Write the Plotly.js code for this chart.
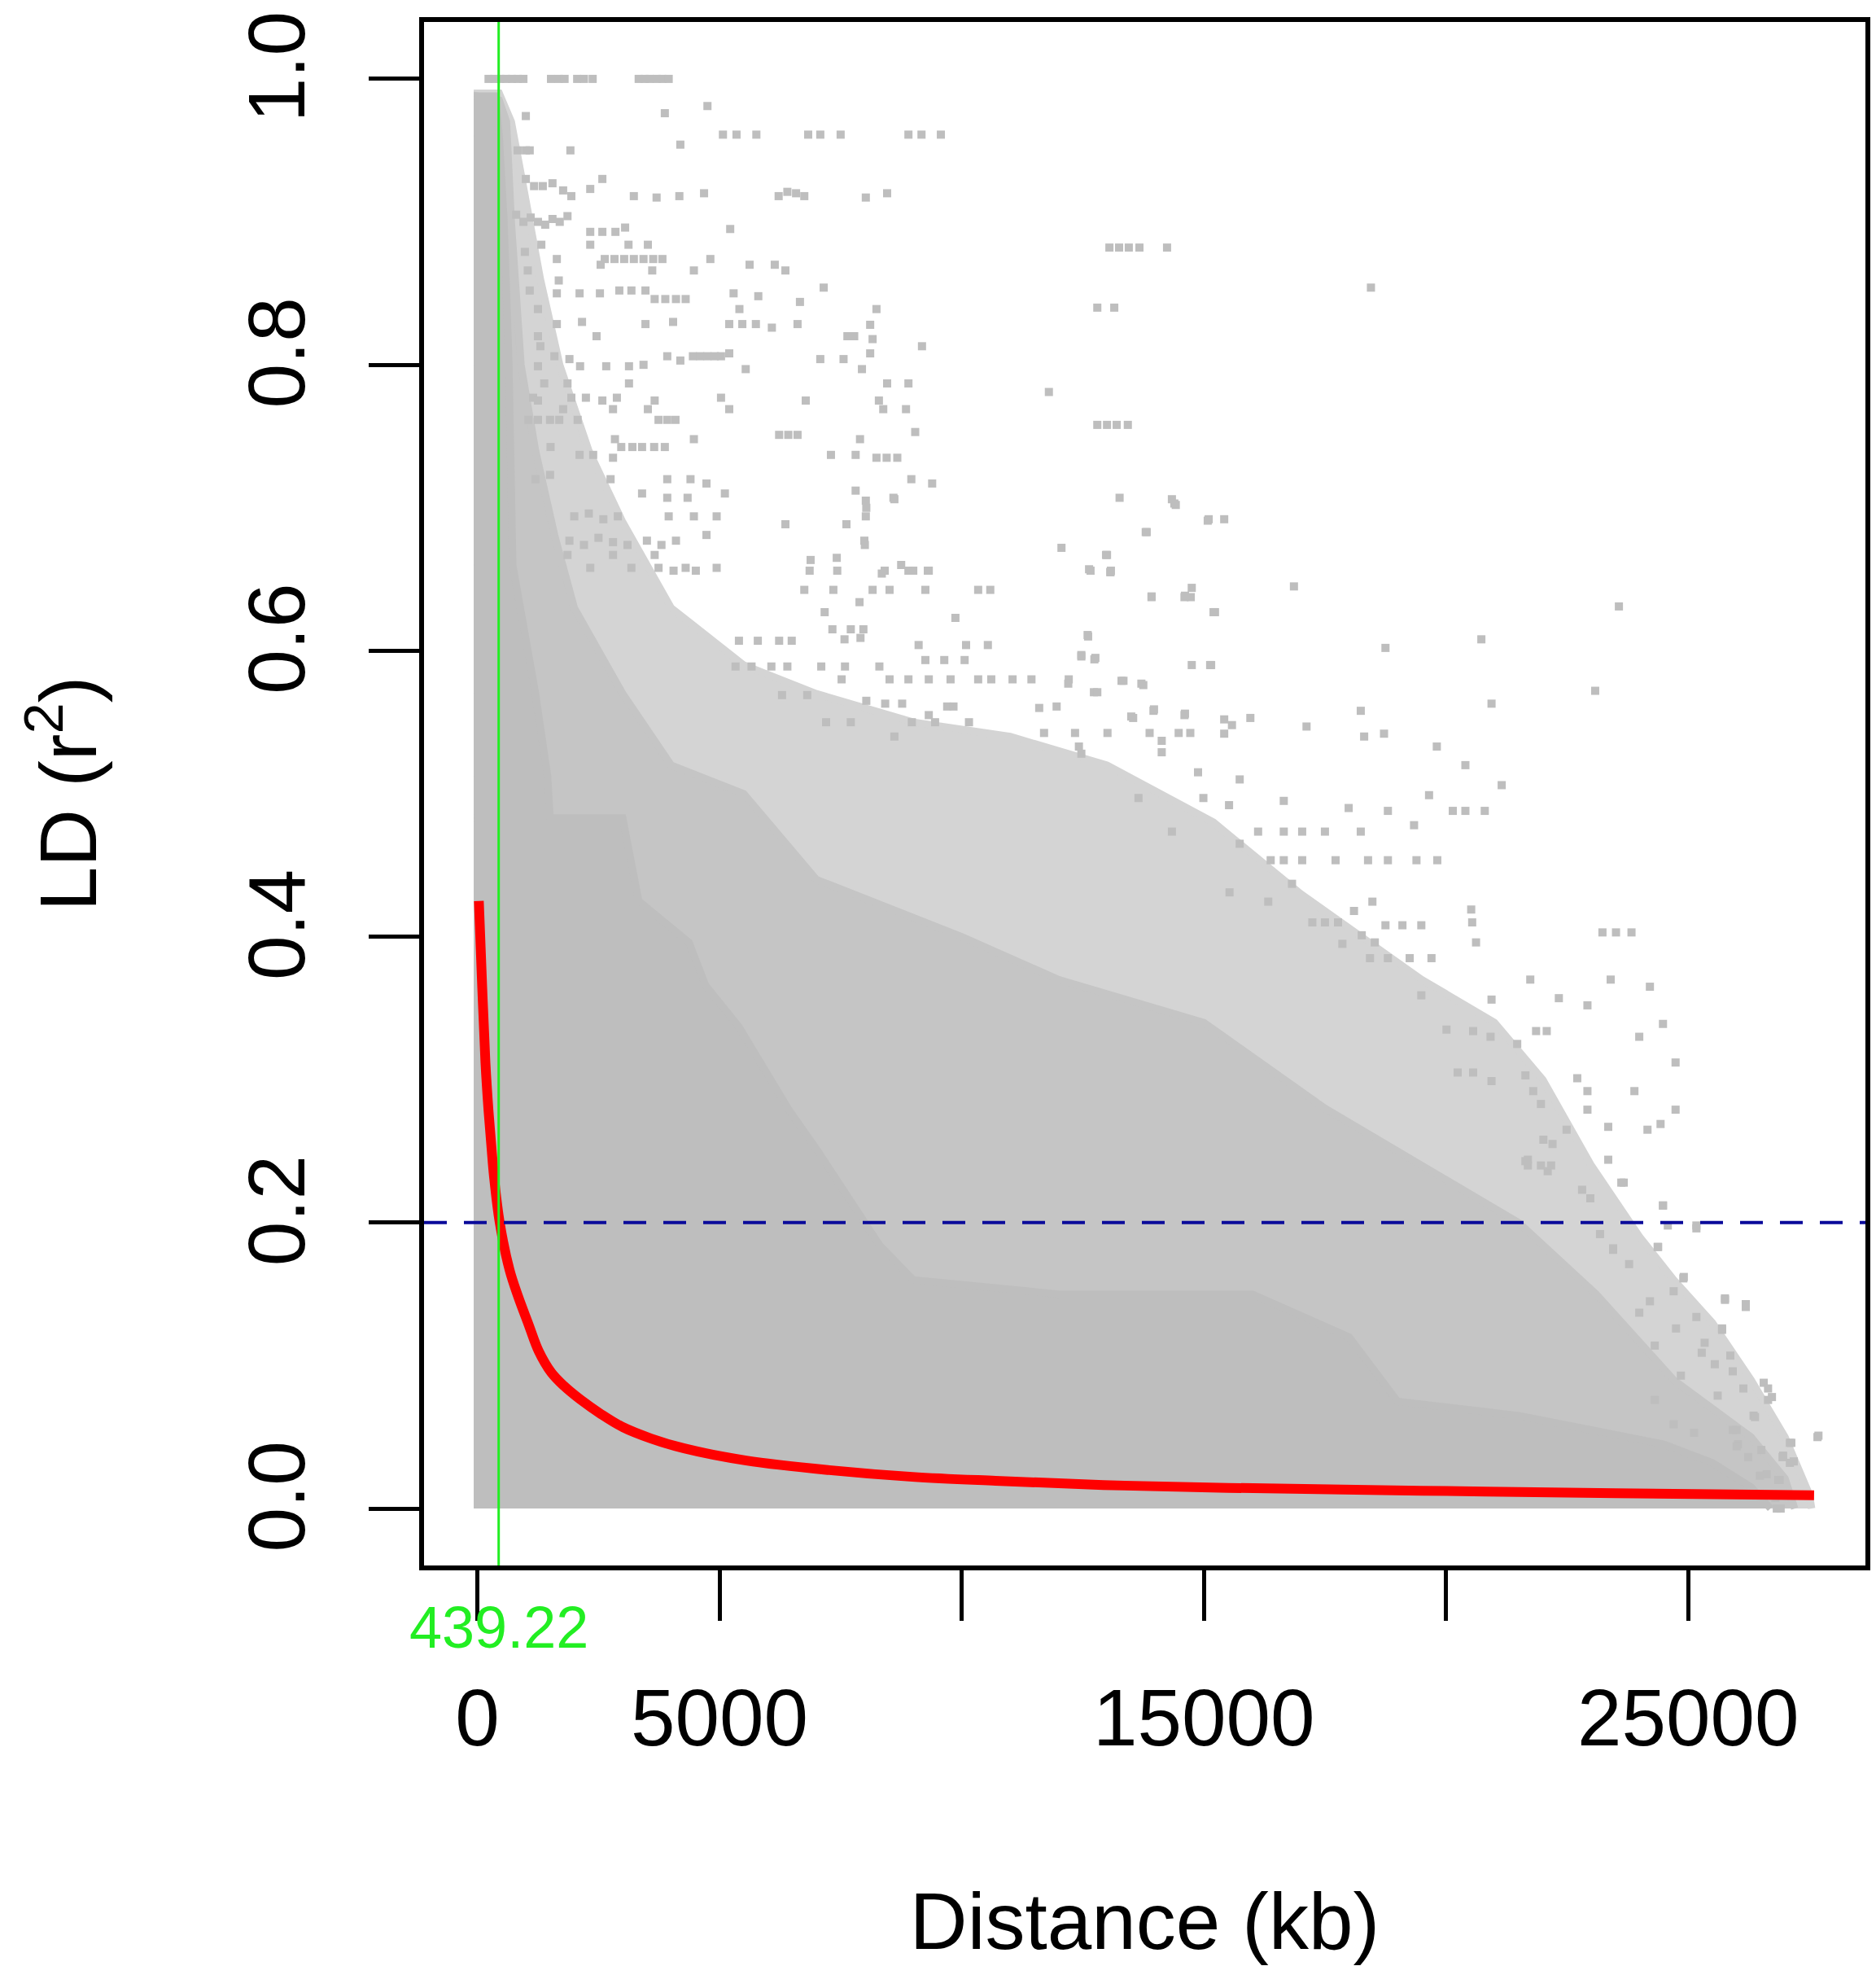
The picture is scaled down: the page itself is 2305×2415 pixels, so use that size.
<!DOCTYPE html>
<html>
<head>
<meta charset="utf-8">
<script src="https://cdn.plot.ly/plotly-3.0.1.min.js"></script>
<style>
html,body{margin:0;padding:0;background:#fff;}
#chart{width:2305px;height:2415px;}
</style>
</head>
<body>
<div id="chart"></div>
<script>
// ---- Data ----
// Fitted LD decay curve (distance kb, r^2)
const fitX = [30, 100, 166, 230, 292, 343, 461, 663, 839, 1054, 1267, 1524, 1783, 2124, 2555, 2982, 3587, 4270, 5553, 7267, 8980, 10700, 12930, 15500, 19500, 23500, 27600];
const fitY = [0.425, 0.364, 0.312, 0.278, 0.252, 0.232, 0.200, 0.167, 0.1485, 0.129, 0.110, 0.0952, 0.0859, 0.0763, 0.066, 0.0573, 0.049, 0.0421, 0.0336, 0.0269, 0.0222, 0.0194, 0.0165, 0.0145, 0.0125, 0.0108, 0.0093];

// Envelope of the fully saturated part of the point cloud
const solidX = [0, 370, 450, 550, 650, 730, 1200, 1450, 1500, 3000, 3330, 4370, 4710, 5400, 6430, 7030, 8310, 9000, 12000, 16000, 18000, 19000, 21500, 23000, 24500, 25500, 26300, 26700];
const solidY = [0.988, 0.988, 0.96, 0.90, 0.80, 0.66, 0.57, 0.512, 0.483, 0.483, 0.425, 0.396, 0.366, 0.337, 0.279, 0.25, 0.184, 0.16, 0.15, 0.15, 0.12, 0.075, 0.065, 0.055, 0.045, 0.032, 0.015, 0.0];

// Envelope of the densely speckled part of the cloud
const denseX = [0, 450, 600, 700, 900, 1200, 1600, 2000, 3000, 4000, 5500, 7000, 10000, 12000, 15000, 17500, 19500, 21500, 23100, 24700, 26300, 27000, 27200];
const denseY = [0.988, 0.985, 0.97, 0.90, 0.80, 0.74, 0.68, 0.63, 0.57, 0.52, 0.50, 0.44, 0.40, 0.37, 0.34, 0.28, 0.24, 0.20, 0.15, 0.09, 0.05, 0.021, 0.0];

// Envelope of the moderately speckled part of the cloud
const modX = [0, 450, 700, 920, 1300, 1700, 2300, 3000, 4000, 5500, 7000, 9000, 11000, 13000, 15200, 17000, 19500, 21000, 22000, 23000, 24000, 24700, 25500, 26300, 27000, 27500, 27550];
const modY = [0.99, 0.99, 0.97, 0.93, 0.86, 0.80, 0.74, 0.69, 0.63, 0.59, 0.57, 0.55, 0.54, 0.52, 0.48, 0.43, 0.37, 0.34, 0.30, 0.24, 0.19, 0.16, 0.13, 0.09, 0.05, 0.01, 0.0];

// Individually visible points (distance kb, r^2)
const ldX = [
230,350,470,590,710,830,950,1520,1680,1800,2060,2200,2380,3330,3450,3560,3700,3820,3950,
4750,3870,1000,5070,5350,5760,6830,7080,7500,8900,9170,9570,4190,830,1000,1080,1920,
1000,1170,1350,1550,1770,1940,2330,2580,3230,3700,4170,4680,6220,6400,6580,6750,8020,8460,
800,950,1100,1250,1400,1550,1700,1860,2330,2580,2850,3050,5220,
1320,2330,3120,3520,980,13050,13250,13450,13670,14240,
1640,2630,2830,3030,3230,3430,3630,3820,4810,2545,5620,6140,6360,1040,3610,4470,1680,
1080,1640,2110,2530,2930,3180,3470,3660,3880,4100,4300,5290,5800,7150,6660,18450,
1250,5410,8240,12800,13150,1640,2160,3470,4040,5200,5470,5750,6080,6610,8110,
1250,2460,7640,7780,8160,1300,9180,
1590,1900,3920,4190,4450,4600,4750,4900,5030,5200,7080,7560,8110,
1250,2120,2660,3130,3430,5540,7940,1380,1860,3130,8460,8900,11800,
1150,1250,1940,2240,2580,2880,3660,5030,6780,8290,1770,2800,3520,5200,8380,8850,
1050,1250,1500,1690,2070,3740,3920,4090,12800,13000,13200,13430,9040,6230,6420,6610,
2840,4470,7900,1510,2970,3200,3400,3650,3870,2110,2390,2800,7300,7810,8240,8450,8670,
1200,1500,2750,3920,4400,4730,8960,9390,3400,3920,4340,5110,7810,8020,8590,13260,14340,14420,
2000,2300,2600,2900,3950,4470,4940,8020,15100,15420,6360,7620,4730,13800,
1900,2200,2500,2800,3100,3500,3800,4100,7990,12060,1860,2800,3660,13000,
2330,3180,3740,4050,4300,4510,4940,6860,7430,8410,8750,9000,9320,12660,13070,
8030,8610,14390,15080,13820,8000,6880,7420,12980,13080,8350,8900,9300,
6750,7350,7890,8160,8510,9250,10340,10590,13920,14600,14730,7170,9870,15230,
7330,7710,7970,5400,5790,6230,6490,7580,7910,9110,10090,10540,12600,12470,12760,
9250,9640,10060,14750,15130,5330,5660,6070,6400,7100,7590,8300,
7520,8510,8900,9320,9770,10340,10610,11050,11440,12210,12730,13300,13750,
6290,6810,8030,8420,8770,11600,11960,9320,9700,9830,13500,13960,14600,
7200,7710,8610,8970,9450,10150,11700,12340,12470,13010,13880,14480,14720,
23570,20730,23080,20940,18750,16860,21150,19810,20400,23230,23510,23830,24210,24480,23990,24740,24740,24430,
23400,22920,21740,22330,23890,23350,23670,24480,25170,24370,24900,26190,25760,25700,25280,25920,23450,
22920,22490,22010,21640,21960,22710,
12630,13070,13920,14610,14750,15200,12610,12470,12740,15150,12200,12800,13340,13710,13540,13970,14610,
15420,15580,15960,15420,17120,18240,18310,18720,14130,12420,14130,14880,15740,13650,14990,15520,
16650,17990,18800,19650,20140,20400,20800,19340,16120,16650,17030,17500,18240,14340,15740,
16380,16650,17030,17720,18390,18800,19390,19820,16820,15530,16330,20520,20540,20620,17240,17500,17770,
18100,18480,18750,19100,19490,17860,18260,18530,18430,18800,19250,19700,19490,20940,20010,20560,20920,
21470,21860,22080,20240,20560,20940,21640,21800,22920,22200,21690,22100,24160,
23350,23620,24480,25170,24380,23450,24910,25760,26190,25170,25700,25340,25870,25550,26560,26730,26350,
27690,27100,26510,26950,27100,26620,26890,26830,25920,26030,26240,26140,25610,24700,25120,24310,24850,
24310,24750,23990,24700,24210,23780,23180,24580,22810,22980,22170,21690,21960,
27670,27130,27180,26960,26380,26650,26650,26000,26000,26860,26910,26480,26800
];
const ldY = [
1.0,1.0,1.0,1.0,1.0,1.0,1.0,1.0,1.0,1.0,1.0,1.0,1.0,1.0,1.0,1.0,1.0,1.0,1.0,
0.981,0.976,0.974,0.961,0.961,0.961,0.961,0.961,0.961,0.961,0.961,0.961,0.954,0.95,0.95,0.95,0.95,
0.93,0.925,0.925,0.927,0.922,0.918,0.923,0.93,0.918,0.917,0.918,0.92,0.918,0.921,0.92,0.918,0.917,0.92,
0.905,0.9,0.903,0.9,0.898,0.902,0.9,0.904,0.893,0.893,0.893,0.896,0.895,
0.884,0.884,0.884,0.884,0.879,0.882,0.882,0.882,0.882,0.882,
0.874,0.874,0.874,0.874,0.874,0.874,0.874,0.874,0.874,0.87,0.87,0.87,0.866,0.866,0.866,0.866,0.859,
0.852,0.85,0.85,0.85,0.852,0.852,0.852,0.846,0.846,0.846,0.846,0.85,0.848,0.854,0.844,0.854,
0.839,0.839,0.839,0.84,0.84,0.8285,0.83,0.8285,0.83,0.8285,0.8285,0.8285,0.826,0.8285,0.828,
0.82,0.82,0.82,0.82,0.818,0.813,0.813,
0.806,0.804,0.806,0.803,0.806,0.806,0.806,0.806,0.806,0.808,0.804,0.804,0.808,
0.799,0.799,0.799,0.799,0.8,0.797,0.797,0.787,0.787,0.787,0.787,0.787,0.781,
0.777,0.775,0.777,0.777,0.775,0.777,0.775,0.777,0.775,0.775,0.769,0.769,0.769,0.769,0.769,0.769,
0.7615,0.7615,0.7615,0.7615,0.7615,0.7615,0.7615,0.7615,0.758,0.758,0.758,0.758,0.753,0.751,0.751,0.751,
0.748,0.748,0.748,0.7425,0.7425,0.7425,0.7425,0.7425,0.7425,0.737,0.737,0.735,0.737,0.737,0.735,0.735,0.735,
0.72,0.723,0.72,0.72,0.72,0.717,0.72,0.717,0.71,0.707,0.707,0.71,0.712,0.705,0.707,0.707,0.706,0.702,
0.694,0.696,0.692,0.694,0.694,0.694,0.694,0.694,0.692,0.692,0.6885,0.6885,0.681,0.683,
0.677,0.674,0.679,0.676,0.674,0.677,0.674,0.677,0.677,0.672,0.667,0.667,0.667,0.667,
0.658,0.658,0.658,0.656,0.658,0.656,0.658,0.656,0.656,0.656,0.66,0.656,0.656,0.656,0.655,
0.70,0.706,0.703,0.691,0.683,0.674,0.6635,0.665,0.667,0.656,0.654,0.656,0.656,
0.6426,0.6426,0.634,0.6426,0.6426,0.6426,0.6426,0.6426,0.6375,0.6375,0.6375,0.627,0.623,0.627,
0.615,0.615,0.615,0.607,0.607,0.607,0.607,0.608,0.609,0.604,0.604,0.604,0.611,0.596,0.595,
0.5935,0.5935,0.5935,0.59,0.59,0.589,0.589,0.589,0.589,0.589,0.589,0.589,
0.58,0.58,0.58,0.58,0.58,0.58,0.58,0.58,0.58,0.58,0.571,0.579,0.576,
0.569,0.569,0.565,0.563,0.563,0.56,0.561,0.555,0.561,0.561,0.554,0.558,0.555,
0.55,0.55,0.54,0.55,0.55,0.55,0.5425,0.5425,0.528,0.5425,0.5425,0.5425,0.5425,
0.631,0.608,0.572,0.563,0.602,0.645,0.506,0.533,0.52,0.403,0.403,0.403,0.365,0.339,0.33,0.312,0.279,0.269,
0.37,0.352,0.37,0.357,0.292,0.267,0.228,0.212,0.198,0.183,0.161,0.141,0.147,0.125,0.109,0.096,0.182,
0.279,0.265,0.258,0.243,0.283,0.301,
0.657,0.655,0.638,0.6385,0.644,0.627,0.61,0.597,0.594,0.59,0.577,0.571,0.579,0.577,0.553,0.559,0.556,
0.552,0.548,0.553,0.542,0.547,0.558,0.54,0.542,0.537,0.533,0.529,0.515,0.51,0.497,0.497,0.492,
0.495,0.49,0.488,0.499,0.488,0.488,0.488,0.478,0.4735,0.4735,0.4735,0.4735,0.4735,0.4735,0.465,
0.4535,0.4535,0.4535,0.4535,0.4535,0.4535,0.4535,0.4535,0.437,0.431,0.4245,0.419,0.41,0.396,0.41,0.41,0.41,
0.418,0.4245,0.408,0.408,0.408,0.395,0.401,0.396,0.385,0.385,0.385,0.385,0.359,0.356,0.335,0.334,0.33,
0.325,0.334,0.334,0.305,0.305,0.299,0.303,0.292,0.292,0.255,0.24,0.236,0.265,
0.244,0.228,0.212,0.196,0.183,0.181,0.162,0.146,0.143,0.134,0.126,0.116,0.107,0.101,0.088,0.078,0.065,
0.051,0.046,0.041,0.036,0.032,0.024,0.02,0.0,0.055,0.045,0.036,0.084,0.079,0.059,0.053,0.076,0.093,
0.114,0.126,0.137,0.152,0.145,0.171,0.192,0.198,0.223,0.217,0.24,0.244,0.24,
0.05,0.046,0.033,0.037,0.064,0.076,0.084,0.055,0.0435,0.02,0.0,0.023,0.0074
];

// Threshold and decay distance
const r2Threshold = 0.2;
const decayDistance = 439.22;
const xTickVals = [0, 5000, 15000, 25000];
const xTickText = ['0', '5000', '15000', '25000'];
const xUnlabelledTicks = [10000, 20000];
const yTickVals = [0, 0.2, 0.4, 0.6, 0.8, 1.0];

// ---- Build traces ----
function polygon(xs, ys, color) {
  return {
    x: [0].concat(xs, [xs[xs.length - 1]]),
    y: [0].concat(ys, [0]),
    type: 'scatter', mode: 'lines', fill: 'toself', fillcolor: color,
    line: {color: color, width: 9}, hoverinfo: 'skip', showlegend: false
  };
}

const GRAY = '#BEBEBE';
const FONT = 'Liberation Sans, Arial, Helvetica, sans-serif';

const traces = [
  polygon(modX, modY, '#D4D4D4'),
  polygon(denseX, denseY, '#C5C5C5'),
  polygon(solidX, solidY, GRAY),
  {
    x: ldX, y: ldY, type: 'scatter', mode: 'markers',
    marker: {symbol: 'square', size: 10, color: GRAY, line: {width: 0}},
    hoverinfo: 'x+y', showlegend: false
  },
  {
    x: fitX, y: fitY, type: 'scatter', mode: 'lines',
    line: {color: '#FF0000', width: 12, shape: 'spline', smoothing: 1.0},
    showlegend: false
  }
];

const layout = {
  width: 2305, height: 2415,
  margin: {l: 521, r: 13, t: 27, b: 492, pad: 0},
  paper_bgcolor: '#FFFFFF', plot_bgcolor: '#FFFFFF',
  font: {family: FONT, color: '#000000', size: 98},
  showlegend: false,
  xaxis: {
    range: [-1102, 28660], autorange: false,
    tickmode: 'array', tickvals: xTickVals, ticktext: xTickText,
    ticks: 'outside', ticklen: 62, tickwidth: 5, tickcolor: '#000',
    minor: {tickmode: 'array', tickvals: xUnlabelledTicks, ticks: 'outside', ticklen: 62, tickwidth: 5, tickcolor: '#000', showgrid: false},
    showline: true, linewidth: 6, linecolor: '#000', mirror: true,
    showgrid: false, zeroline: false,
    tickfont: {family: FONT, size: 98, color: '#000'},
    ticklabelstandoff: 35,
    title: {text: 'Distance (kb)', font: {family: FONT, size: 98, color: '#000'}, standoff: 175}
  },
  yaxis: {
    range: [-0.0398, 1.0398], autorange: false,
    tickvals: yTickVals, tickformat: '.1f',
    ticks: 'outside', ticklen: 62, tickwidth: 5, tickcolor: '#000',
    showline: true, linewidth: 6, linecolor: '#000', mirror: true,
    showgrid: false, zeroline: false,
    tickangle: -90,
    tickfont: {family: FONT, size: 98, color: '#000'},
    ticklabelstandoff: 40,
    title: {text: 'LD (r<sup>2</sup>)', font: {family: FONT, size: 98, color: '#000'}, standoff: 135}
  },
  shapes: [
    {type: 'line', xref: 'paper', yref: 'y', x0: 0, x1: 1, y0: r2Threshold, y1: r2Threshold,
     line: {color: '#0A0A9A', width: 4, dash: '28px,21px'}, layer: 'above'},
    {type: 'line', xref: 'x', yref: 'paper', x0: decayDistance, x1: decayDistance, y0: 0, y1: 1,
     line: {color: '#22EE22', width: 3}, layer: 'above'}
  ],
  annotations: [
    {xref: 'x', yref: 'paper', x: decayDistance, y: -0.040, xanchor: 'center', yanchor: 'middle',
     text: String(decayDistance), showarrow: false,
     font: {family: FONT, size: 72, color: '#22EE22'}}
  ]
};

Plotly.newPlot('chart', traces, layout, {staticPlot: true, displayModeBar: false});
</script>
</body>
</html>
